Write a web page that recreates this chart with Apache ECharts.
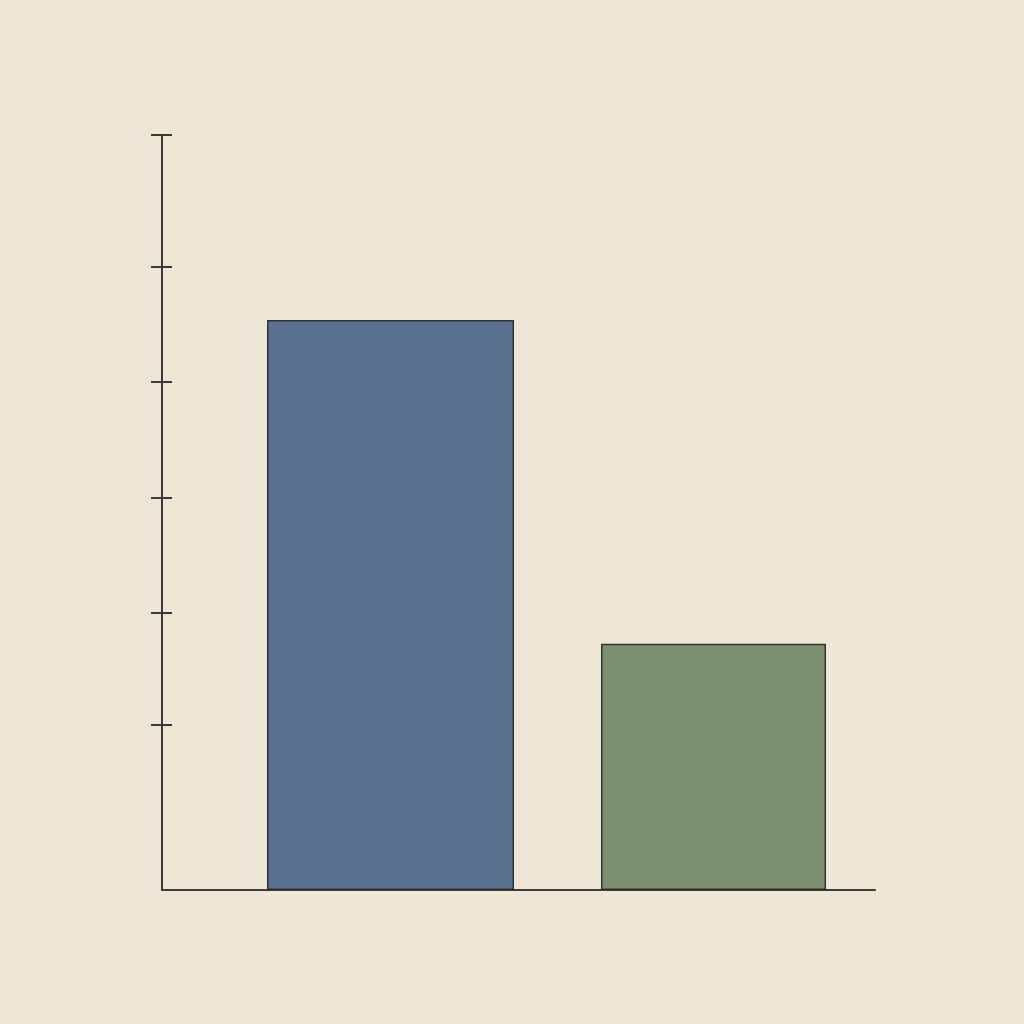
<!DOCTYPE html>
<html>
<head>
<meta charset="utf-8">
<title>Bar chart</title>
<script src="https://cdn.jsdelivr.net/npm/echarts@6/dist/echarts.min.js"></script>
<style>
    html, body { margin: 0; padding: 0; background: #efe7d6; }
    #chart { width: 1024px; height: 1024px; }
</style>
</head>
<body>
<div id="chart"></div>
<script type="text/javascript">
    // values (axis 0..100)
    var barValues = [75.5, 32.6];
    var barCentres = [32.05, 77.35];   // position along the x scale (0..100)
    var barColors = ['#5b7391', '#7b8f6f'];
    var yTicks = [21.9, 36.7, 51.9, 67.3, 82.6, 100];

    var chart = echarts.init(document.getElementById('chart'));

    var axisColor = '#3d3b37';

    var option = {
        backgroundColor: '#efe7d6',
        animation: false,
        grid: { left: 162, right: 149, top: 135, bottom: 134 },
        xAxis: [
            {
                type: 'value', min: 0, max: 100,
                axisLine: { show: true, lineStyle: { color: axisColor, width: 2 } },
                axisTick: { show: false },
                axisLabel: { show: false },
                splitLine: { show: false }
            },
            { type: 'value', min: 0, max: 100, show: false }
        ],
        yAxis: [
            {
                type: 'value', min: 0, max: 100, position: 'left',
                axisLine: { show: true, lineStyle: { color: axisColor, width: 2 } },
                axisTick: { show: true, inside: false, length: 11, customValues: yTicks,
                    lineStyle: { color: axisColor, width: 2 } },
                axisLabel: { show: false },
                splitLine: { show: false }
            },
            {
                type: 'value', min: 0, max: 100, position: 'left',
                axisLine: { show: false },
                axisTick: { show: true, inside: true, length: 10, customValues: yTicks,
                    lineStyle: { color: axisColor, width: 2 } },
                axisLabel: { show: false },
                splitLine: { show: false }
            }
        ],
        series: [
            {
                type: 'bar',
                xAxisIndex: 0,
                barWidth: 247,
                data: [[barCentres[0], barValues[0]]],
                itemStyle: { color: barColors[0], borderColor: '#2f3336', borderWidth: 1.5 }
            },
            {
                type: 'bar',
                xAxisIndex: 1,
                barWidth: 225,
                data: [[barCentres[1], barValues[1]]],
                itemStyle: { color: barColors[1], borderColor: '#2f3336', borderWidth: 1.5 }
            }
        ]
    };

    chart.setOption(option);
    window.onresize = chart.resize;
</script>
</body>
</html>
